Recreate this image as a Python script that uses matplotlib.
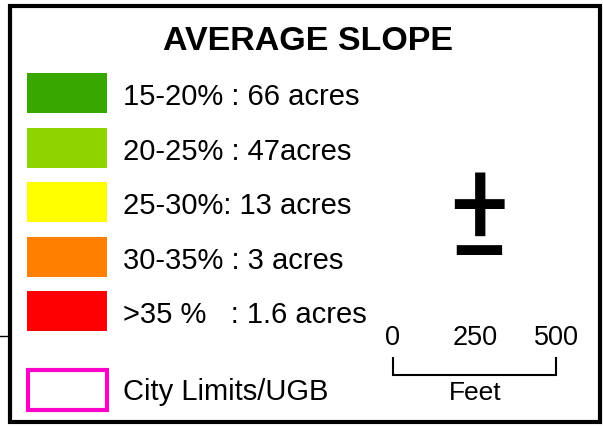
import matplotlib
matplotlib.use("Agg")
import matplotlib.pyplot as plt
from matplotlib.patches import Rectangle
from matplotlib.textpath import TextPath
from matplotlib.font_manager import FontProperties

plt.rcParams['font.family'] = ['Liberation Sans', 'DejaVu Sans']

title = "AVERAGE SLOPE"
labels = ["15-20% : 66 acres", "20-25% : 47acres", "25-30%: 13 acres",
          "30-35% : 3 acres", ">35 %   : 1.6 acres"]
colors = ["#38A800", "#8FD400", "#FFFF00", "#FF8000", "#FF0000"]
boundary_label = "City Limits/UGB"
boundary_color = "#FF00C8"
scale_ticks = ["0", "250", "500"]
scale_unit = "Feet"
north_symbol = "\u00b1"

W, H = 603, 426
fig = plt.figure(figsize=(W / 100, H / 100), dpi=100)
ax = fig.add_axes([0, 0, 1, 1])
ax.set_xlim(0, W)
ax.set_ylim(H, 0)
ax.axis('off')

# outer frame
ax.add_patch(Rectangle((9.5, 5.5), 590, 416, fill=False, lw=3, ec='black'))
ax.plot([0, 8], [336, 336], color='black', lw=1)

ax.text(308, 50, title, fontsize=24.5, fontweight='bold', ha='center', va='baseline')

row_top = [73, 127.5, 182, 236.5, 291]
baselines = [105, 160, 214.5, 269, 323]
for top, base, lab, col in zip(row_top, baselines, labels, colors):
    ax.add_patch(Rectangle((27, top), 80, 40, color=col, lw=0))
    ax.text(123, base, lab, fontsize=21, ha='left', va='baseline')

ax.add_patch(Rectangle((27.5, 370), 79, 40, fill=False, ec=boundary_color, lw=3))
ax.text(123, 400, boundary_label, fontsize=21, ha='left', va='baseline')

# north symbol: size it so its ink spans the reference height
nfam = ['Roboto Condensed', 'Open Sans Condensed', 'Liberation Sans']
fp = FontProperties(family=nfam, weight='normal')
ext = TextPath((0, 0), north_symbol, prop=fp, size=100).get_extents()
target_h, ink_bottom, ink_cx = 82.0, 255.0, 478.5
size_px = 100 * target_h / ext.height
k = size_px / 100
x0 = ink_cx - k * (ext.x0 + ext.width / 2)
base_y = ink_bottom + k * ext.y0
ax.text(x0, base_y, north_symbol, fontsize=size_px * 72 / 100, ha='left',
        va='baseline', family=nfam, fontweight='normal')

# scale bar
xs = [393, 475, 556]
for x, t in zip(xs, scale_ticks):
    ax.text(x, 345, t, fontsize=19.5, ha='center', va='baseline')
ax.plot([393, 393, 556, 556], [358, 375, 375, 358], color='black', lw=1.5,
        solid_joinstyle='miter')
ax.text(475, 400, scale_unit, fontsize=19, ha='center', va='baseline')

fig.savefig("out.png", dpi=100)
